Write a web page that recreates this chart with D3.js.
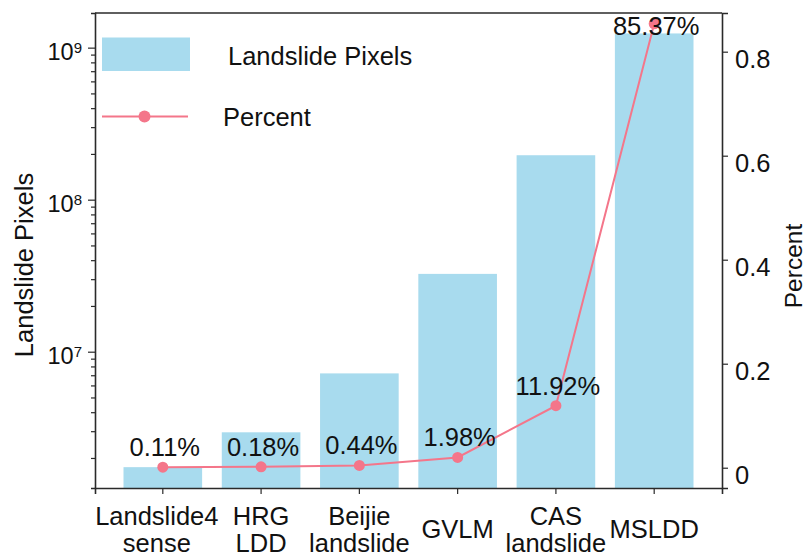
<!DOCTYPE html>
<html>
<head>
<meta charset="utf-8">
<script src="https://cdn.jsdelivr.net/npm/d3@7"></script>
<style>
  html, body { margin: 0; padding: 0; background: #fff; }
  svg { display: block; font-family: "Liberation Sans", Arial, Helvetica, sans-serif; }
  text { fill: #111; }
</style>
</head>
<body>
<svg id="chart" width="807" height="556"></svg>
<script>
// Datasets (two-line category names)
const categories = [
  ["Landslide4", "sense"],
  ["HRG", "LDD"],
  ["Beijie", "landslide"],
  ["GVLM"],
  ["CAS", "landslide"],
  ["MSLDD"]
];
// Landslide pixel counts per dataset
const pixels = [1.74e6, 2.95e6, 7.2e6, 3.25e7, 1.96e8, 1.24e9];
// Share of all landslide pixels
const percent = [0.0011, 0.0018, 0.0044, 0.0198, 0.1192, 0.8537];
const percentLabels = ["0.11%", "0.18%", "0.44%", "1.98%", "11.92%", "85.37%"];
// Axis ticks
const leftTicks = [1e7, 1e8, 1e9];
const rightTicks = [0, 0.2, 0.4, 0.6, 0.8];
const rightTickLabels = ["0", "0.2", "0.4", "0.6", "0.8"];

const svg = d3.select("#chart");
const m = { left: 95, right: 722, top: 13, bottom: 488 };
const barColor = "#a8dbee";
const lineColor = "#f4768a";
const axisColor = "#2a2a2a";
const fs = 25.5;

const keys = categories.map(c => c.join(" "));

const x = d3.scaleBand()
  .domain(keys)
  .range([m.left, m.right])
  .paddingInner(0.2)
  .paddingOuter(0.29);

const yL = d3.scaleLog()
  .domain([1.269e6, 1.69e9])
  .range([m.bottom, m.top]);

const yR = d3.scaleLinear()
  .domain([-0.039, 0.8744])
  .range([m.bottom, m.top]);

// Bars
svg.append("g")
  .selectAll("rect")
  .data(pixels)
  .join("rect")
  .attr("x", (d, i) => x(keys[i]))
  .attr("width", x.bandwidth())
  .attr("y", d => yL(d))
  .attr("height", d => m.bottom - yL(d))
  .attr("fill", barColor);

// Frame: top border
svg.append("line")
  .attr("x1", m.left).attr("x2", m.right)
  .attr("y1", m.top).attr("y2", m.top)
  .attr("stroke", axisColor).attr("stroke-width", 1.6);

// Left log axis with minor ticks
const minor = [];
for (let e = 6; e <= 9; e++) {
  for (let k = 1; k <= 9; k++) {
    const v = k * Math.pow(10, e);
    if (v >= yL.domain()[0] && v <= yL.domain()[1]) minor.push(v);
  }
}
const gL = svg.append("g")
  .attr("transform", `translate(${m.left},0)`)
  .call(d3.axisLeft(yL).tickValues(minor).tickSize(4).tickFormat(""));
gL.selectAll(".tick line")
  .filter(d => leftTicks.includes(d))
  .attr("x2", -7);
gL.select(".domain").attr("stroke", axisColor).attr("stroke-width", 1.6);
gL.selectAll(".tick line").attr("stroke", axisColor).attr("stroke-width", 1.2);

const lbl = svg.append("g").attr("font-size", 23.5);
leftTicks.forEach(v => {
  const t = lbl.append("text")
    .attr("x", m.left - 13)
    .attr("y", yL(v) + 12)
    .attr("text-anchor", "end");
  t.append("tspan").text("10");
  t.append("tspan").attr("font-size", 15).attr("dy", -7).text(String(Math.round(Math.log10(v))));
});

// Right linear axis
const gR = svg.append("g")
  .attr("transform", `translate(${m.right},0)`)
  .call(d3.axisRight(yR).tickValues(rightTicks).tickSize(6).tickFormat(""));
gR.select(".domain").attr("stroke", axisColor).attr("stroke-width", 1.6);
gR.selectAll(".tick line").attr("stroke", axisColor).attr("stroke-width", 1.2);
svg.append("g").attr("font-size", fs)
  .selectAll("text")
  .data(rightTicks)
  .join("text")
  .attr("x", m.right + 13)
  .attr("y", d => yR(d) + 16)
  .text((d, i) => rightTickLabels[i]);

// Bottom axis
const gB = svg.append("g")
  .attr("transform", `translate(0,${m.bottom})`)
  .call(d3.axisBottom(x).tickSize(6).tickFormat(""));
gB.select(".domain").attr("stroke", axisColor).attr("stroke-width", 1.6);
gB.selectAll(".tick line").attr("stroke", axisColor).attr("stroke-width", 1.2);

const cat = svg.append("g").attr("font-size", fs).attr("text-anchor", "middle");
categories.forEach((c, i) => {
  const cx = x(keys[i]) + x.bandwidth() / 2 - (i === 0 ? 6 : 0);
  const t = cat.append("text").attr("x", cx).attr("y", c.length === 2 ? 525 : 538);
  c.forEach((line, j) => {
    t.append("tspan").attr("x", cx).attr("dy", j === 0 ? 0 : 27).text(line);
  });
});

// Percent line and markers
const pts = percent.map((p, i) => [x(keys[i]) + x.bandwidth() / 2, yR(p)]);
svg.append("path")
  .attr("d", d3.line()(pts))
  .attr("fill", "none")
  .attr("stroke", lineColor)
  .attr("stroke-width", 2);
svg.append("g")
  .selectAll("circle")
  .data(pts)
  .join("circle")
  .attr("cx", d => d[0])
  .attr("cy", d => d[1])
  .attr("r", 5.5)
  .attr("fill", lineColor);

// Percent value labels
svg.append("g").attr("font-size", fs).attr("text-anchor", "middle")
  .selectAll("text")
  .data(pts)
  .join("text")
  .attr("x", d => d[0] + 2)
  .attr("y", d => Math.max(d[1] - 11, m.top + 22))
  .text((d, i) => percentLabels[i]);

// Axis titles
svg.append("text")
  .attr("transform", "translate(33,265) rotate(-90)")
  .attr("text-anchor", "middle")
  .attr("font-size", fs)
  .text("Landslide Pixels");
svg.append("text")
  .attr("transform", "translate(802,266) rotate(-90)")
  .attr("text-anchor", "middle")
  .attr("font-size", 24.5)
  .text("Percent");

// Legend
const lg = svg.append("g");
lg.append("rect")
  .attr("x", 102).attr("y", 37.5)
  .attr("width", 88).attr("height", 33.5)
  .attr("fill", barColor);
lg.append("text")
  .attr("x", 228).attr("y", 64.5)
  .attr("font-size", fs)
  .text("Landslide Pixels");
lg.append("line")
  .attr("x1", 102).attr("x2", 188)
  .attr("y1", 116.5).attr("y2", 116.5)
  .attr("stroke", lineColor).attr("stroke-width", 2);
lg.append("circle")
  .attr("cx", 144.5).attr("cy", 116.5).attr("r", 6)
  .attr("fill", lineColor);
lg.append("text")
  .attr("x", 223).attr("y", 126)
  .attr("font-size", fs)
  .text("Percent");
</script>
</body>
</html>
